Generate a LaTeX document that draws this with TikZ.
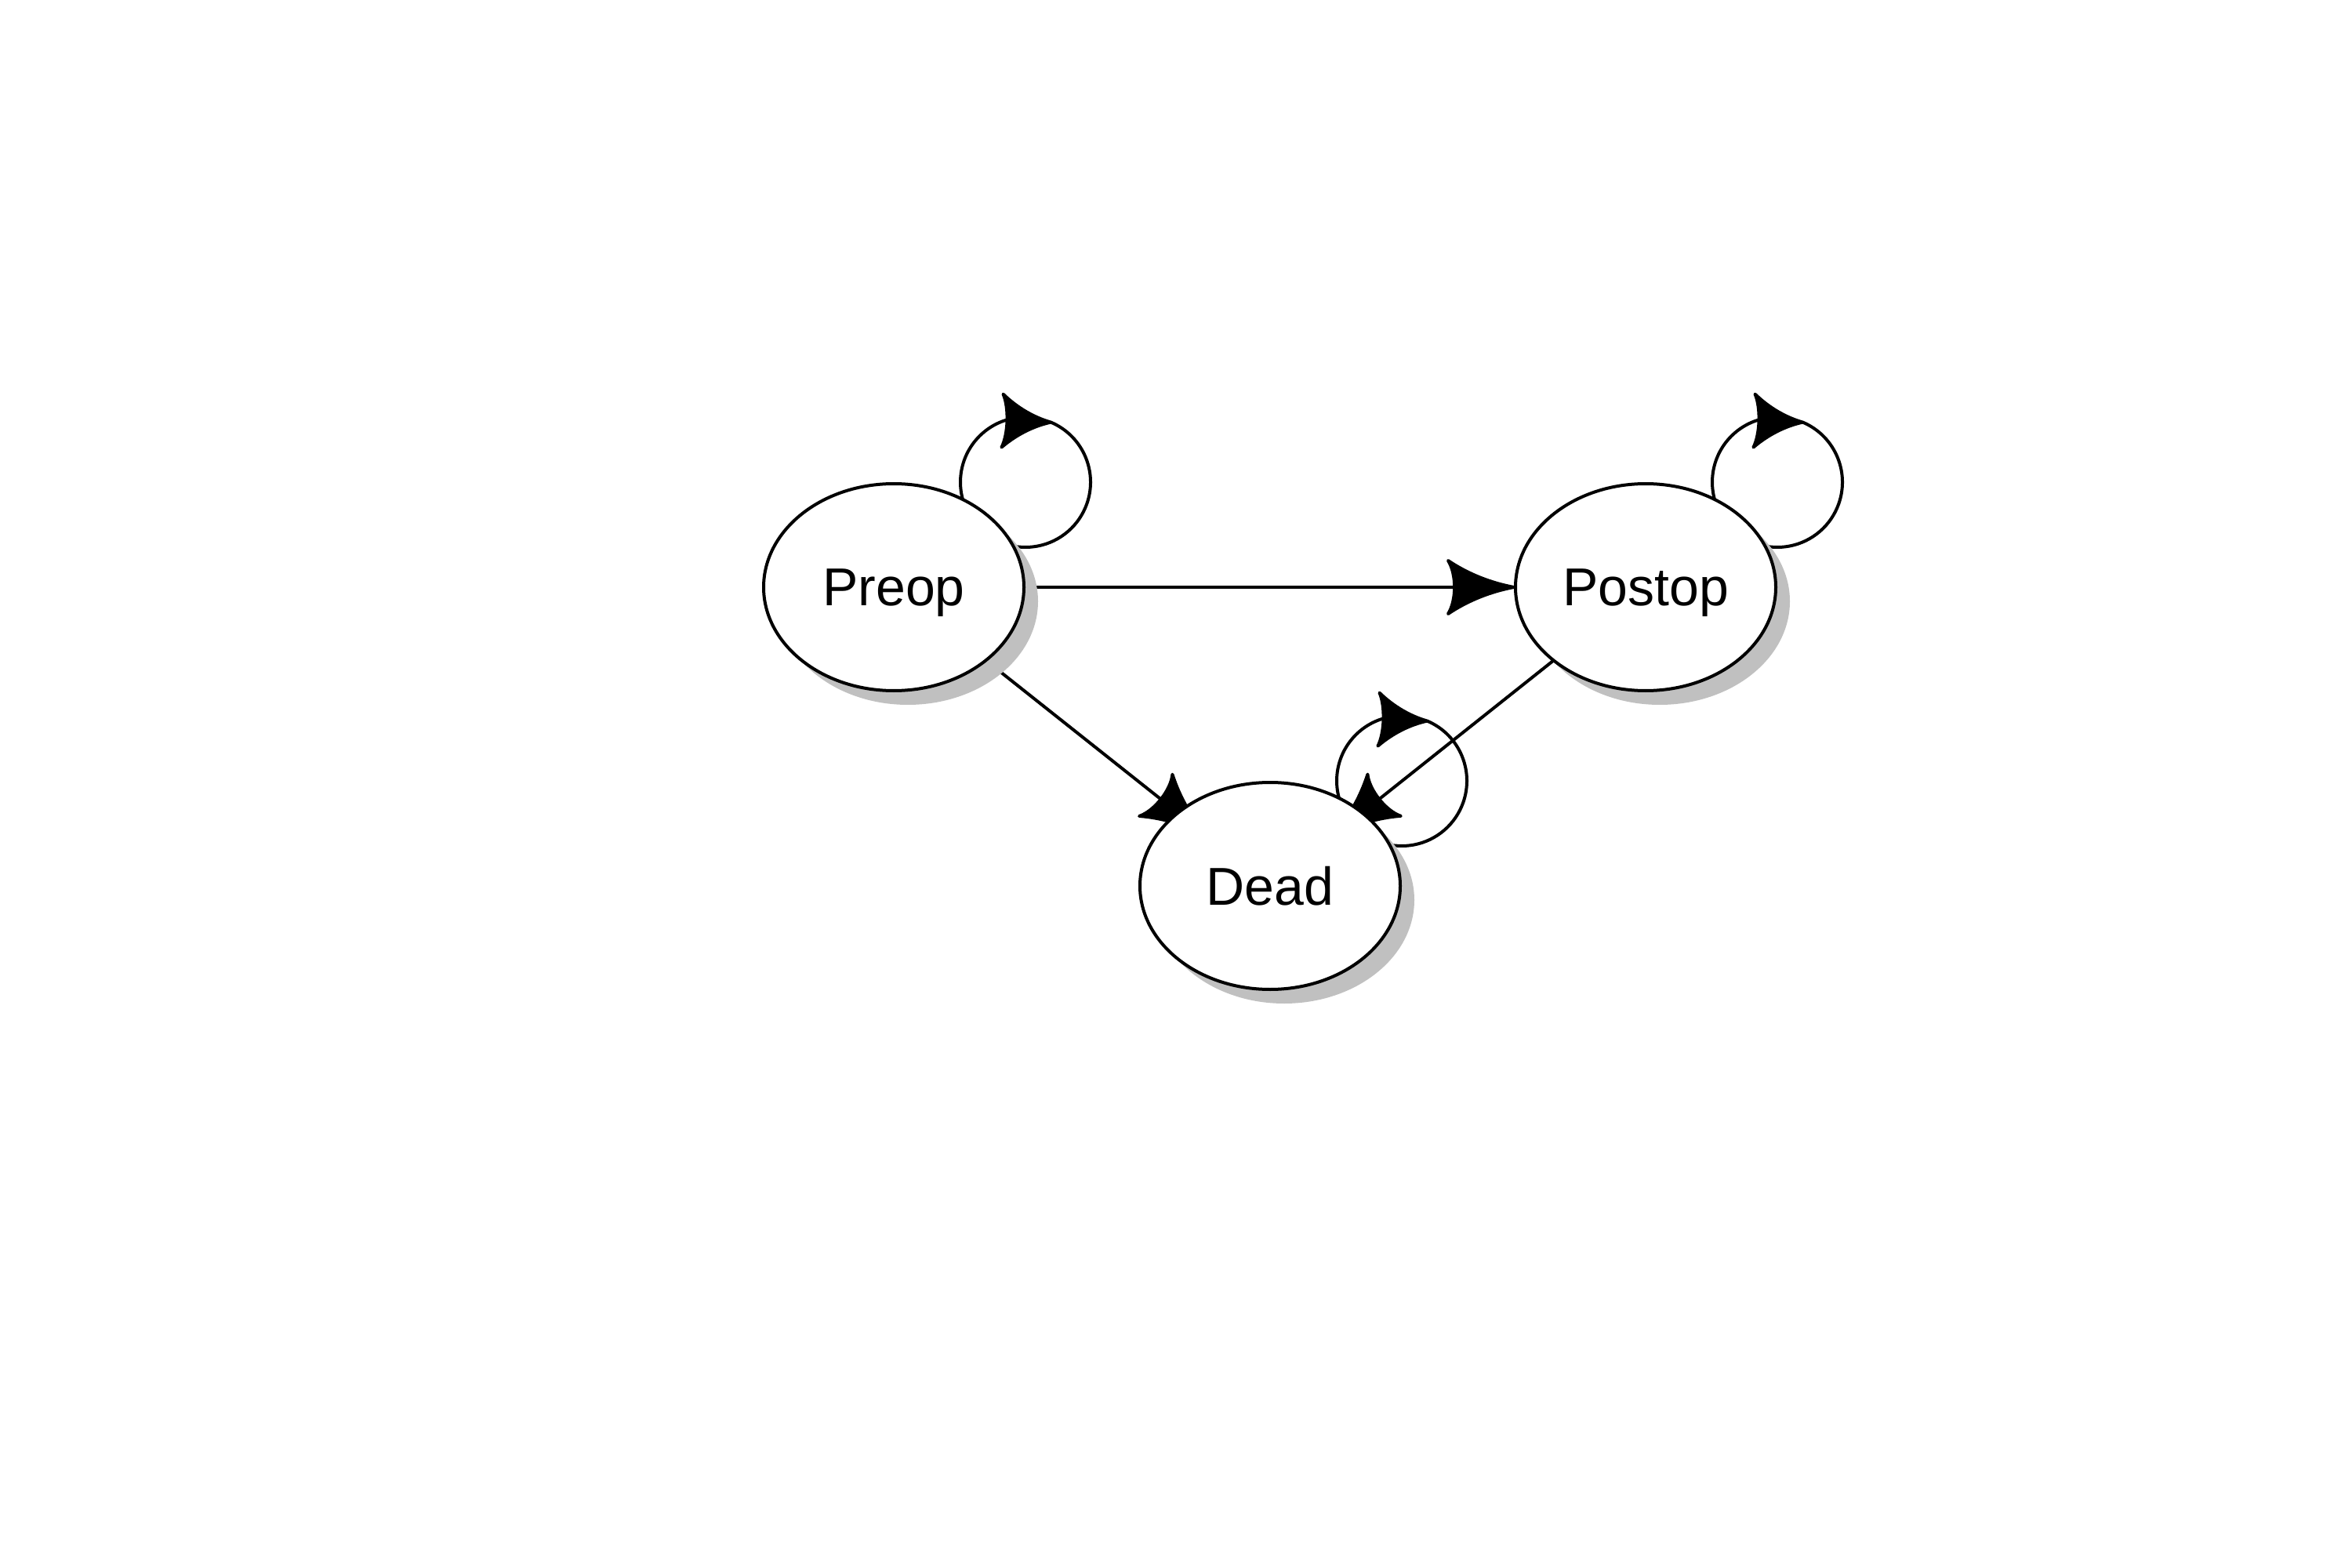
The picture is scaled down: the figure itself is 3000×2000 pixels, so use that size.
\documentclass[tikz,border=0pt]{standalone}
\usepackage{fontspec}
\setmainfont{Liberation Sans}
\usetikzlibrary{arrows.meta,bending,shapes.geometric,shadows}

\definecolor{shadowgray}{RGB}{192,192,192}

\pgfdeclarelayer{background}
\pgfsetlayers{background,main}

% arrow head with hollow sides and back
\pgfdeclarearrow{
  name = Barb,
  defaults = {length = 21pt, width = 17pt},
  parameters = {\the\pgfarrowlength,\the\pgfarrowwidth},
  setup code = {
    \pgfarrowssettipend{0pt}
    \pgfarrowssetbackend{-\pgfarrowlength}
    \pgfarrowssetlineend{-0.8\pgfarrowlength}
    \pgfarrowsupperhullpoint{-\pgfarrowlength}{0.5\pgfarrowwidth}
    \pgfarrowssavethe\pgfarrowlength
    \pgfarrowssavethe\pgfarrowwidth
  },
  drawing code = {
    \pgfsetroundjoin
    \pgfpathmoveto{\pgfqpoint{0pt}{0pt}}
    \pgfpathcurveto{\pgfpoint{-0.35\pgfarrowlength}{0.08\pgfarrowwidth}}{\pgfpoint{-0.7\pgfarrowlength}{0.25\pgfarrowwidth}}{\pgfpoint{-\pgfarrowlength}{0.5\pgfarrowwidth}}
    \pgfpathcurveto{\pgfpoint{-0.87\pgfarrowlength}{0.25\pgfarrowwidth}}{\pgfpoint{-0.87\pgfarrowlength}{-0.25\pgfarrowwidth}}{\pgfpoint{-\pgfarrowlength}{-0.5\pgfarrowwidth}}
    \pgfpathcurveto{\pgfpoint{-0.7\pgfarrowlength}{-0.25\pgfarrowwidth}}{\pgfpoint{-0.35\pgfarrowlength}{-0.08\pgfarrowwidth}}{\pgfqpoint{0pt}{0pt}}
    \pgfpathclose
    \pgfusepathqfillstroke
  }
}

\tikzset{every picture/.style={line width=1pt}}
\tikzset{
  statenode/.style={ellipse, draw, fill=white, minimum width=83pt, minimum height=66pt, inner sep=0pt,
    text depth=0pt, font=\fontsize{17}{20}\selectfont,
    drop shadow={shadow xshift=4.5pt, shadow yshift=-4.5pt, fill=shadowgray, opacity=1}},
  loopline/.style={line width=1pt},
  trans/.style={loopline, -{Barb}},
  loopend/.style={loopline, -{Barb[length=15.5pt]}}
}

\begin{document}
\begin{tikzpicture}[x=0.25pt,y=0.25pt,yscale=-1,xscale=1]
    \useasboundingbox (0,0) rectangle (3000,2000);

    % States
    \node[statenode] (preop) at (1140,749) {Preop};
    \node[statenode] (postop) at (2099,749) {Postop};
    \node[statenode] (dead) at (1620,1130) {Dead};

    % centres of the self loops
    \coordinate (preoploop) at (preop.east |- preop.north);
    \coordinate (postoploop) at (postop.east |- postop.north);
    \coordinate (deadloop) at (dead.east |- dead.north);

    \begin{pgfonlayer}{background}
    % Transitions
    \draw[trans] (preop.center) -- (postop);
    \draw[trans, shorten >=-12.5pt] (preop.center) -- (dead);
    \draw[trans, shorten >=-12.5pt] (postop.center) -- (dead);

    % Self loops
    \draw[loopend] (preoploop) ++(135:83) arc[start angle=135, end angle=293, radius=83];
    \draw[loopline] (preoploop) ++(293:83) arc[start angle=293, end angle=495, radius=83];
    \draw[loopend] (postoploop) ++(135:83) arc[start angle=135, end angle=293, radius=83];
    \draw[loopline] (postoploop) ++(293:83) arc[start angle=293, end angle=495, radius=83];
    \draw[loopend] (deadloop) ++(135:83) arc[start angle=135, end angle=293, radius=83];
    \draw[loopline] (deadloop) ++(293:83) arc[start angle=293, end angle=495, radius=83];
    \end{pgfonlayer}

\end{tikzpicture}
\end{document}
